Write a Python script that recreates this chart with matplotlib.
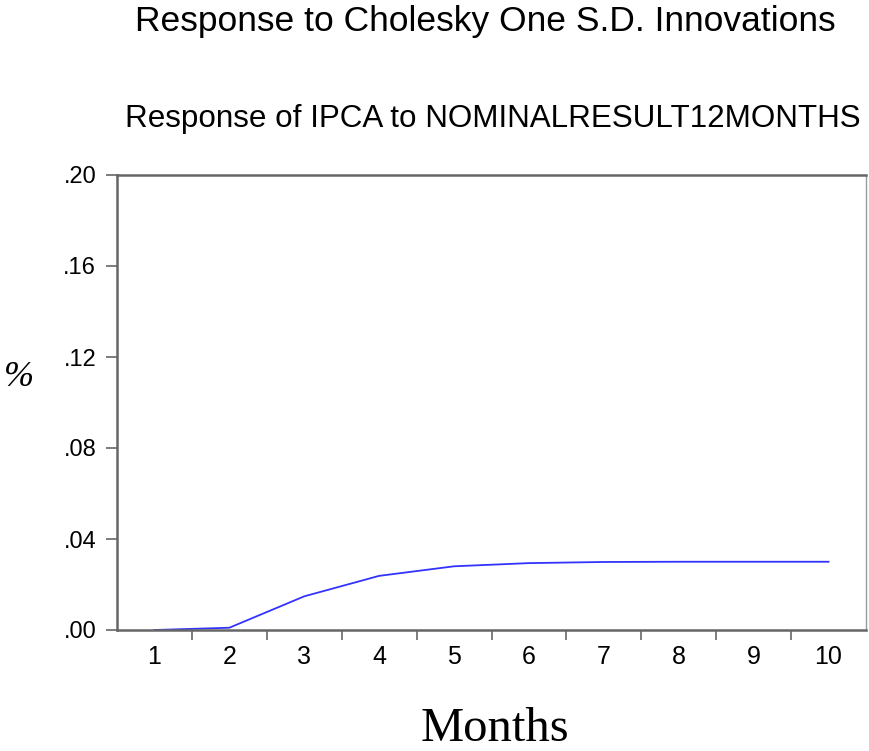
import numpy as np
import matplotlib.pyplot as plt

periods = [1, 2, 3, 4, 5, 6, 7, 8, 9, 10]
response = [0.0, 0.001, 0.0148, 0.0238, 0.0280, 0.0294, 0.0299, 0.0300, 0.0300, 0.0300]
yticks = [0.00, 0.04, 0.08, 0.12, 0.16, 0.20]
ylabels = ['.00', '.04', '.08', '.12', '.16', '.20']

plt.rcParams['font.family'] = ['Liberation Sans', 'DejaVu Sans']

fig = plt.figure(figsize=(8.69, 7.51), dpi=100)
ax = fig.add_axes([117 / 869, 1 - 630 / 751, (866 - 117) / 869, (630 - 175) / 751])

ax.plot(periods, response, color='#3333ff', lw=1.3)

ax.set_xlim(0.5, 10.5)
ax.set_ylim(0, 0.2)
ax.set_yticks(yticks)
ax.set_yticklabels(ylabels, fontsize=17)
# tick marks between months, labels at the months
ax.set_xticks(np.arange(1.5, 10.5, 1.0))
ax.set_xticklabels([])
ax.set_xticks(periods, minor=True)
ax.set_xticklabels([str(p) for p in periods], minor=True, fontsize=18)
ax.tick_params(axis='x', which='major', direction='out', length=7, width=1.2, color='#666666')
ax.tick_params(axis='x', which='minor', length=0, pad=11)
ax.tick_params(axis='y', direction='out', length=8, width=1.2, color='#666666', pad=7)

for s in ['left', 'bottom', 'top']:
    ax.spines[s].set_color('#666666')
    ax.spines[s].set_linewidth(1.8)
ax.spines['right'].set_color('#999999')
ax.spines['right'].set_linewidth(1.0)

fig.text(485 / 869, 1 - 22 / 751, 'Response to Cholesky One S.D. Innovations',
         ha='center', va='center', fontsize=25.5)
fig.text(493 / 869, 1 - 119 / 751, 'Response of IPCA to NOMINALRESULT12MONTHS',
         ha='center', va='center', fontsize=22.6)
fig.text(495 / 869, 1 - 729 / 751, 'Months', ha='center', va='center',
         fontsize=35, family='Liberation Serif')
fig.text(19 / 869, 1 - 378 / 751, '%', ha='center', va='center',
         fontsize=26, family='Liberation Serif', style='italic')

fig.savefig('out.png', dpi=100)
